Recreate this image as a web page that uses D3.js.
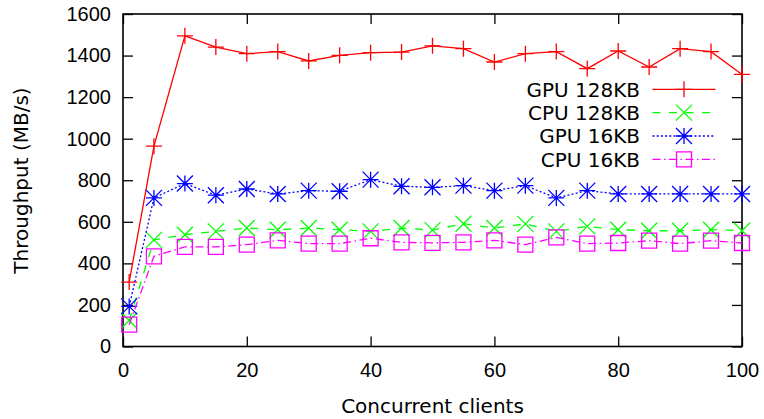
<!DOCTYPE html>
<html>
<head>
<meta charset="utf-8">
<script src="https://cdn.jsdelivr.net/npm/d3@7"></script>
<style>
    body { margin: 0; background: #fff; }
    svg { display: block; font-family: "DejaVu Sans", sans-serif; }
    .tick text { font-size: 20px; fill: #000; }
</style>
</head>
<body>
<svg id="chart" width="764" height="419"></svg>
<script>
const clients = [1, 5, 10, 15, 20, 25, 30, 35, 40, 45, 50, 55, 60, 65, 70, 75, 80, 85, 90, 95, 100];

const gpu128 = [310, 964, 1495, 1441, 1409, 1419, 1374, 1401, 1414, 1417, 1447, 1433, 1369, 1409, 1419, 1337, 1422, 1345, 1433, 1419, 1309];
const cpu128 = [125, 513, 538, 554, 570, 562, 570, 562, 554, 570, 560, 591, 570, 590, 554, 578, 562, 557, 557, 562, 557];
const gpu16  = [193, 715, 784, 728, 758, 734, 750, 747, 803, 771, 766, 774, 750, 774, 715, 750, 734, 734, 734, 734, 734];
const cpu16  = [105, 434, 479, 479, 490, 511, 495, 495, 521, 501, 499, 501, 511, 490, 525, 495, 498, 509, 495, 509, 498];

const xTicks = [0, 20, 40, 60, 80, 100];
const yTicks = [0, 200, 400, 600, 800, 1000, 1200, 1400, 1600];

const seriesNames = ["GPU 128KB", "CPU 128KB", "GPU 16KB", "CPU 16KB"];

// style per series: colour, dash, point type
const series = [
    { name: seriesNames[0], values: gpu128, color: "#ff0000", dash: null,              mark: "plus" },
    { name: seriesNames[1], values: cpu128, color: "#00ff00", dash: "8,8.5",           mark: "cross" },
    { name: seriesNames[2], values: gpu16,  color: "#0000ff", dash: "2,2.2",           mark: "star" },
    { name: seriesNames[3], values: cpu16,  color: "#ff00ff", dash: "8,3.5,1.5,3.5",   mark: "square" }
];

const plotLeft = 123, plotRight = 742, plotTop = 14, plotBottom = 346.5;
const fontSize = "20px";

const svg = d3.select("#chart");

const x = d3.scaleLinear().domain([0, 100]).range([plotLeft, plotRight]);
const y = d3.scaleLinear().domain([0, 1600]).range([plotBottom, plotTop]);

// axes with inward ticks, mirrored on top/right
svg.append("g")
    .attr("transform", `translate(0,${plotBottom})`)
    .call(d3.axisBottom(x).tickValues(xTicks).tickFormat(d3.format("d")).tickSize(-10).tickPadding(16))
    .call(g => g.select(".domain").remove());

svg.append("g")
    .attr("transform", `translate(0,${plotTop})`)
    .call(d3.axisTop(x).tickValues(xTicks).tickSize(-10).tickFormat(""))
    .call(g => g.select(".domain").remove());

svg.append("g")
    .attr("transform", `translate(${plotLeft},0)`)
    .call(d3.axisLeft(y).tickValues(yTicks).tickFormat(d3.format("d")).tickSize(-10).tickPadding(12))
    .call(g => g.select(".domain").remove());

svg.append("g")
    .attr("transform", `translate(${plotRight},0)`)
    .call(d3.axisRight(y).tickValues(yTicks).tickSize(-10).tickFormat(""))
    .call(g => g.select(".domain").remove());

svg.selectAll(".tick line").attr("stroke", "#000").attr("stroke-width", 1.3);

svg.append("rect")
    .attr("x", plotLeft)
    .attr("y", plotTop)
    .attr("width", plotRight - plotLeft)
    .attr("height", plotBottom - plotTop)
    .attr("fill", "none")
    .attr("stroke", "#000")
    .attr("stroke-width", 1.6);

// axis titles
svg.append("text")
    .attr("x", (plotLeft + plotRight) / 2)
    .attr("y", 413)
    .attr("text-anchor", "middle")
    .attr("font-size", fontSize)
    .text("Concurrent clients");

svg.append("text")
    .attr("transform", "translate(28,180.5) rotate(-90)")
    .attr("text-anchor", "middle")
    .attr("font-size", fontSize)
    .text("Throughput (MB/s)");

function drawMark(g, type, cx, cy, color) {
    const s = 8;
    const p = g.append("path")
        .attr("fill", "none")
        .attr("stroke", color)
        .attr("stroke-width", 1.3);
    let d = "";
    if (type === "plus" || type === "star") {
        d += `M${cx - s},${cy}H${cx + s}M${cx},${cy - s}V${cy + s}`;
    }
    if (type === "cross" || type === "star") {
        d += `M${cx - s},${cy - s}L${cx + s},${cy + s}M${cx - s},${cy + s}L${cx + s},${cy - s}`;
    }
    if (type === "square") {
        const h = 7.5;
        d = `M${cx - h},${cy - h}H${cx + h}V${cy + h}H${cx - h}Z`;
    }
    p.attr("d", d);
}

const line = d3.line()
    .x(d => x(d[0]))
    .y(d => y(d[1]));

const plot = svg.append("g");

series.forEach(s => {
    const pts = clients.map((c, i) => [c, s.values[i]]);
    plot.append("path")
        .datum(pts)
        .attr("fill", "none")
        .attr("stroke", s.color)
        .attr("stroke-width", 1.3)
        .attr("stroke-dasharray", s.dash)
        .attr("d", line);
    pts.forEach(p => drawMark(plot, s.mark, x(p[0]), y(p[1]), s.color));
});

// legend, top right inside the frame
const legend = svg.append("g");
series.forEach((s, i) => {
    const cy = 89.3 + i * 23.35;
    legend.append("text")
        .attr("x", 640)
        .attr("y", cy + 7.2)
        .attr("text-anchor", "end")
        .attr("font-size", fontSize)
        .text(s.name);
    legend.append("line")
        .attr("x1", 652.5)
        .attr("x2", 715.5)
        .attr("y1", cy)
        .attr("y2", cy)
        .attr("stroke", s.color)
        .attr("stroke-width", 1.3)
        .attr("stroke-dasharray", s.dash);
    drawMark(legend, s.mark, 684, cy, s.color);
});
</script>
</body>
</html>
